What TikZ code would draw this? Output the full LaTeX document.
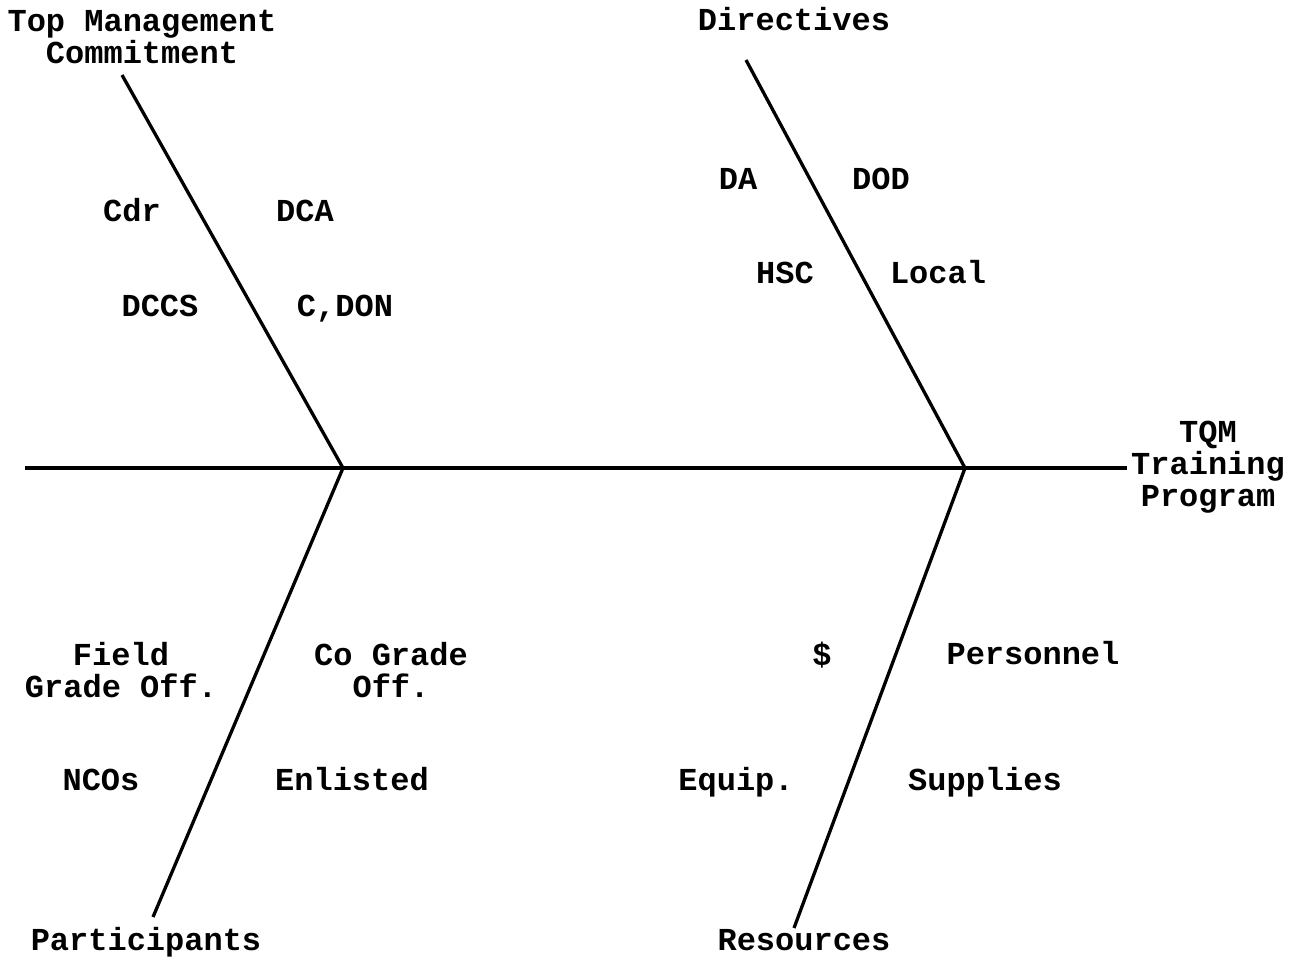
\documentclass[tikz,border=0pt]{standalone}
\usepackage{fontspec}
\setmainfont{Liberation Mono}
\begin{document}
\begin{tikzpicture}[x=1pt,y=-1pt,
  lbl/.style={font=\bfseries\fontsize{32}{32}\selectfont, inner sep=0pt, align=center},
  word/.style={lbl, anchor=base},
  bone/.style={line width=3.3pt}]
\useasboundingbox (0,0) rectangle (1303,958);
% spine and joints
\coordinate (tail) at (25,468);
\coordinate (j1) at (343,468);
\coordinate (j2) at (965,468);
\coordinate (head) at (1127,468);
% bone ends
\coordinate (tl) at (122,75);
\coordinate (tr) at (746,60);
\coordinate (bl) at (153,917);
\coordinate (br) at (794,928);
\draw[bone] (tail) -- (j1) -- (j2) -- (head);
\draw[bone] (tl) -- (j1) -- (bl);
\draw[bone] (tr) -- (j2) -- (br);
% category labels
\node[lbl] (top) at (142,37) {Top Management\\Commitment};
\node[word] (dir) at (794,31) {Directives};
\node[word] (par) at (146,950) {Participants};
\node[word] (res) at (804,950) {Resources};
\node[lbl] (eff) at (1208,467) {TQM\\Training\\Program};
% causes
\node[word] (cdr) at (132,221) {Cdr};
\node[word] (dca) at (305,221) {DCA};
\node[word] (dccs) at (160,316) {DCCS};
\node[word] (cdon) at (345,316) {C,DON};
\node[word] (da) at (738,189) {DA};
\node[word] (dod) at (881,189) {DOD};
\node[word] (hsc) at (785,283) {HSC};
\node[word] (loc) at (938,283) {Local};
\node[lbl] (fgo) at (121,670) {Field\\Grade Off.};
\node[lbl] (cgo) at (391,670) {Co Grade\\Off.};
\node[word] (nco) at (101,790) {NCOs};
\node[word] (enl) at (352,790) {Enlisted};
\node[word] (usd) at (822,665) {\$};
\node[word] (per) at (1033,664) {Personnel};
\node[word] (eqp) at (736,790) {Equip.};
\node[word] (sup) at (985,790) {Supplies};
\end{tikzpicture}
\end{document}
